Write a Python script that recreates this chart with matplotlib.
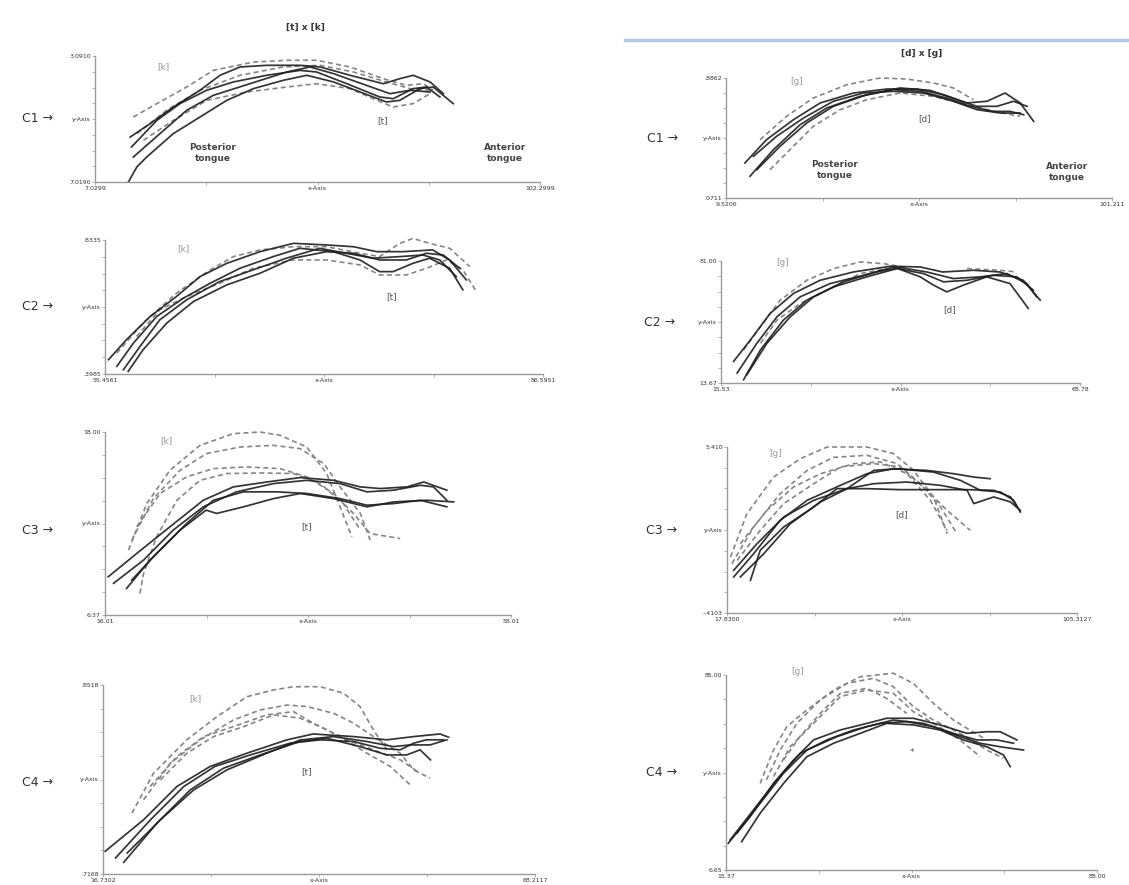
import matplotlib
matplotlib.use("Agg")
import matplotlib.pyplot as plt
from matplotlib.ticker import FixedLocator

W, H = 1129, 885
plt.rcParams["font.family"] = ["DejaVu Sans"]

# ---- curve data (x, y in % of each panel's axis range) ----
# left column: [t] (solid) vs [k] (dashed)
L1_SOLID_X = [[7.5, 9.4, 11.6, 17.6, 23.6, 29.6, 35.6, 42.3, 47.6, 53.6, 59.6, 65.5, 68.5, 73.0, 76.0, 80.5],
              [7.9, 12.4, 17.6, 23.6, 28.1, 32.6, 38.6, 46.1, 50.6, 57.3, 64.8, 68.5, 71.5, 75.3, 78.3],
              [8.2, 13.9, 19.1, 25.1, 31.1, 38.6, 46.1, 49.8, 56.6, 64.0, 67.0, 71.5, 74.5, 77.5],
              [8.6, 14.6, 20.6, 26.6, 34.8, 43.1, 48.3, 53.6, 61.0, 66.3, 70.8, 75.3]]
L1_SOLID_Y = [[0, 11.9, 19.8, 38.4, 51.6, 64.8, 74.1, 80.7, 84.7, 79.4, 71.4, 63.5, 64.8, 74.1, 75.4, 62.2],
              [35.7, 46.3, 59.5, 72.8, 84.7, 91.3, 92.6, 92.6, 91.3, 84.7, 78.0, 82.0, 84.7, 79.4, 70.1],
              [27.8, 48.9, 62.2, 72.8, 79.4, 84.7, 88.6, 87.3, 78.0, 67.5, 66.1, 74.1, 75.4, 67.5],
              [19.8, 38.4, 56.9, 68.8, 78.0, 87.3, 91.3, 86.0, 76.7, 70.1, 72.8, 71.4]]
L1_DASH_X = [[8.6, 13.9, 20.6, 26.6, 35.6, 43.1, 49.8, 57.3, 64.8, 70.0, 73.8, 76.0],
             [10.9, 17.6, 25.1, 34.1, 43.1, 49.8, 57.3, 62.5, 67.0, 71.5, 75.3],
             [9.4, 16.1, 23.6, 32.6, 42.3, 50.6, 58.1, 65.5, 70.8, 75.3]]
L1_DASH_Y = [[51.6, 62.2, 75.4, 88.6, 95.2, 96.6, 96.6, 91.3, 82.0, 76.7, 78.0, 72.8],
             [33.1, 48.9, 64.8, 71.4, 75.4, 78.0, 74.1, 66.1, 59.5, 62.2, 70.1],
             [38.4, 56.9, 72.8, 84.7, 91.3, 92.6, 87.3, 79.4, 74.1, 72.8]]

L2_SOLID_X = [[0.8, 4.9, 10.3, 16.3, 21.7, 27.8, 35.4, 43.0, 50.6, 56.7, 62.0, 68.1, 74.8, 78.7, 82.5],
              [2.7, 6.5, 11.8, 17.9, 24.0, 30.8, 38.4, 44.5, 52.1, 58.2, 62.7, 65.8, 70.3, 74.1, 78.7, 81.7],
              [4.2, 8.0, 12.5, 18.6, 26.2, 33.8, 41.4, 49.0, 55.1, 61.2, 67.3, 72.6, 76.4, 80.2],
              [5.3, 8.7, 14.1, 20.2, 27.8, 35.4, 43.0, 50.6, 56.7, 62.7, 68.8, 73.4, 77.2, 81.0]]
L2_SOLID_Y = [[10.7, 25.6, 42.9, 57.8, 72.7, 82.6, 91.3, 97.5, 96.3, 95.0, 91.3, 91.3, 92.6, 85.1, 70.2],
              [5.7, 23.1, 42.9, 56.6, 67.7, 78.9, 87.6, 93.8, 91.3, 85.1, 76.4, 76.4, 82.6, 86.4, 78.9, 62.8],
              [3.2, 20.6, 40.4, 55.3, 69.0, 77.7, 86.4, 93.8, 90.1, 86.4, 87.6, 88.8, 85.1, 72.7],
              [2.0, 18.1, 38.0, 54.1, 66.5, 75.2, 86.4, 91.3, 90.1, 85.1, 85.1, 90.1, 88.8, 78.9]]
L2_DASH_X = [[7.2, 12.5, 18.6, 26.2, 33.8, 43.0, 50.6, 58.2, 62.7, 68.8, 73.4, 78.0, 81.7, 84.8],
             [2.7, 8.7, 16.3, 24.0, 29.3, 35.4, 43.0, 50.6, 58.2, 62.7, 67.3, 70.3, 74.1, 78.7, 83.3]]
L2_DASH_Y = [[28.0, 47.9, 57.8, 67.7, 78.9, 85.1, 85.1, 81.4, 73.9, 73.9, 78.9, 85.1, 77.7, 61.5],
             [15.6, 38.0, 60.3, 77.7, 87.6, 92.6, 95.0, 95.0, 90.1, 87.6, 97.5, 101.2, 97.5, 93.8, 80.1]]

L3_SOLID_X = [[0.8, 7.8, 16.0, 24.2, 31.6, 39.9, 48.1, 56.3, 62.9, 67.8, 74.4, 78.5, 84.2],
              [2.1, 9.5, 16.8, 24.2, 32.4, 41.5, 49.7, 57.9, 64.5, 71.1, 77.7, 80.9, 84.2],
              [5.3, 11.1, 18.5, 24.9, 27.5, 34.1, 41.5, 48.1, 56.3, 64.5, 71.1, 79.3, 85.9],
              [6.6, 12.7, 20.1, 26.7, 34.1, 42.3, 49.7, 57.9, 64.5, 71.1, 77.7, 84.2]]
L3_SOLID_Y = [[20.9, 33.6, 48.2, 62.7, 70.0, 72.7, 75.1, 73.6, 70.0, 69.1, 70.0, 72.7, 68.2],
              [17.3, 30.0, 46.4, 59.1, 67.3, 71.8, 73.6, 71.8, 67.3, 68.2, 70.9, 70.0, 62.7],
              [14.5, 30.0, 46.4, 57.3, 55.5, 59.1, 63.6, 66.4, 63.6, 59.1, 61.8, 62.7, 61.8],
              [19.1, 33.6, 50.0, 62.7, 67.3, 67.3, 66.4, 63.6, 60.0, 60.9, 62.7, 59.1]]
L3_DASH_X = [[5.8, 10.3, 16.0, 23.4, 31.6, 38.2, 43.1, 49.7, 54.6, 57.9, 60.8],
             [6.6, 11.9, 18.5, 25.0, 33.3, 41.5, 48.1, 53.9, 57.9, 62.9, 65.3],
             [7.8, 13.6, 20.1, 26.7, 34.9, 43.1, 49.7, 56.3, 61.2, 65.3, 72.7],
             [8.6, 9.5, 12.7, 17.7, 23.4, 30.0, 38.2, 46.4, 53.0, 58.7, 62.9]]
L3_DASH_Y = [[35.5, 60.9, 79.1, 92.7, 99.1, 100, 98.2, 91.8, 77.3, 59.1, 42.7],
             [40.9, 63.6, 79.1, 88.2, 91.8, 92.7, 90.9, 82.7, 70.0, 55.5, 40.9],
             [48.2, 66.4, 75.5, 80.0, 80.9, 80.0, 75.5, 66.4, 55.5, 44.5, 41.8],
             [11.8, 22.7, 42.7, 62.7, 73.6, 77.3, 77.6, 77.3, 71.8, 60.9, 46.4]]

L4_SOLID_X = [[0.5, 9.4, 17.1, 24.8, 33.3, 42.6, 48.7, 58.0, 65.7, 71.9, 78.0, 80.0],
              [2.9, 11.0, 18.7, 25.9, 34.1, 43.3, 50.3, 58.0, 64.2, 68.8, 71.9, 74.9, 78.8],
              [4.8, 12.5, 20.2, 27.9, 36.4, 45.6, 51.8, 59.5, 65.7, 70.3, 73.4, 75.8],
              [5.6, 13.3, 21.0, 28.7, 37.9, 45.6, 53.3, 61.1, 67.2, 71.1, 75.7, 79.6]]
L4_SOLID_Y = [[12.0, 28.7, 46.3, 56.9, 63.9, 71.0, 74.1, 72.7, 71.0, 72.7, 74.1, 72.4],
              [8.5, 28.7, 46.3, 56.9, 63.0, 69.2, 71.0, 70.1, 66.5, 65.7, 69.2, 71.0, 71.0],
              [6.2, 26.9, 44.5, 56.0, 63.0, 70.1, 71.8, 67.4, 63.0, 63.0, 65.7, 60.4],
              [11.1, 28.7, 44.5, 55.1, 63.9, 70.9, 72.7, 70.1, 67.4, 68.3, 68.3, 71.0]]
L4_DASH_X = [[6.7, 11.7, 19.4, 26.4, 33.3, 39.5, 44.1, 50.3, 55.7, 59.5, 62.6, 65.7],
             [9.4, 15.6, 22.5, 30.2, 36.4, 42.6, 47.2, 53.4, 58.0, 62.6, 68.8, 71.9, 75.7],
             [10.9, 17.1, 23.3, 30.2, 37.9, 44.1, 48.7, 54.9, 61.1, 66.5, 71.1],
             [13.3, 19.4, 25.6, 32.6, 39.5, 45.7, 51.1, 56.4, 62.6, 68.8, 73.4]]
L4_DASH_Y = [[32.2, 53.3, 71.0, 83.3, 93.8, 97.4, 99.1, 99.1, 95.6, 88.6, 76.2, 65.7],
             [39.3, 58.6, 71.0, 81.5, 86.8, 89.4, 88.6, 85.0, 79.8, 72.7, 63.9, 55.1, 50.7],
             [46.3, 62.1, 72.7, 78.0, 84.2, 85.9, 79.8, 72.7, 63.9, 56.9, 47.2],
             [49.8, 63.9, 72.7, 78.0, 84.2, 82.4, 77.1, 71.0, 65.7, 60.4, 53.3]]

# right column: [d] (solid) vs [g] (dashed)
R1_SOLID_X = [[4.9, 10.5, 17.5, 24.4, 33.0, 41.7, 49.4, 56.4, 62.4, 67.6, 72.3, 76.2, 79.7],
              [6.2, 12.3, 19.2, 26.1, 34.7, 43.4, 50.3, 57.2, 63.3, 69.3, 73.6, 77.1],
              [8.0, 14.0, 20.9, 27.8, 36.5, 45.1, 52.9, 59.8, 65.0, 70.2, 74.5, 78.0],
              [7.1, 13.1, 20.1, 27.8, 35.6, 43.4, 51.2, 58.9, 65.0, 71.1, 76.2]]
R1_SOLID_Y = [[29.2, 48.6, 65.3, 79.2, 87.5, 90.8, 90.8, 86.1, 79.2, 80.6, 87.5, 79.2, 63.9],
              [18.1, 40.3, 61.1, 75.0, 84.7, 90.3, 88.9, 83.3, 76.4, 72.2, 72.2, 69.4],
              [23.6, 43.1, 62.5, 76.4, 86.1, 91.7, 89.7, 81.9, 76.4, 76.4, 80.6, 76.4],
              [34.7, 51.4, 66.7, 80.6, 87.5, 88.9, 87.5, 80.6, 73.6, 70.8, 70.8]]
R1_DASH_X = [[8.8, 15.7, 22.6, 31.3, 39.9, 46.8, 53.8, 58.9, 64.1],
             [11.4, 16.6, 22.6, 29.6, 36.5, 45.1, 53.8, 62.4, 69.3, 76.2]]
R1_DASH_Y = [[48.6, 68.1, 83.3, 94.4, 100, 99.2, 95.8, 91.7, 81.9],
             [23.6, 40.3, 59.7, 73.6, 81.9, 87.5, 84.7, 77.8, 72.2, 68.1]]

R2_SOLID_X = [[3.5, 8.2, 13.7, 20.2, 27.6, 36.9, 47.1, 55.5, 61.7, 70.3, 77.7, 84.2, 88.9],
              [4.5, 10.0, 15.6, 22.1, 30.4, 39.7, 48.1, 55.5, 59.2, 62.9, 67.5, 74.0, 80.5, 85.6],
              [6.3, 11.0, 17.4, 23.9, 31.4, 40.6, 49.0, 56.4, 62.0, 68.5, 75.9, 82.4, 87.0],
              [7.2, 12.8, 19.3, 25.8, 34.1, 43.4, 49.9, 57.3, 64.7, 72.2, 79.6, 85.2, 87.9]]
R2_SOLID_Y = [[17.7, 35.3, 57.1, 73.4, 84.2, 91.0, 95.7, 95.1, 91.0, 92.4, 91.0, 84.2, 67.9],
              [8.2, 32.6, 54.3, 70.7, 81.5, 88.3, 95.1, 87.0, 80.2, 74.7, 80.2, 87.0, 81.5, 61.1],
              [2.7, 27.2, 51.6, 67.9, 78.8, 87.0, 93.8, 89.7, 82.9, 84.2, 88.3, 87.0, 76.1],
              [6.8, 32.6, 54.3, 70.7, 82.9, 91.0, 94.6, 91.0, 85.6, 87.0, 89.7, 81.5, 70.7]]
R2_DASH_X = [[6.3, 11.0, 16.5, 23.9, 31.4, 38.8, 45.3, 51.8],
             [11.0, 15.6, 22.1, 27.6, 32.3, 38.8, 46.2],
             [68.5, 77.7, 82.4]]
R2_DASH_Y = [[27.2, 46.2, 67.9, 84.2, 93.8, 99.2, 97.8, 94.6],
             [32.6, 51.6, 65.2, 73.4, 80.2, 89.7, 93.8],
             [93.8, 92.4, 91.0]]

R3_SOLID_X = [[1.9, 7.6, 15.2, 22.9, 32.4, 40.0, 47.6, 57.1, 64.8, 70.5, 75.2],
              [1.9, 8.6, 16.2, 24.8, 34.3, 41.9, 48.6, 59.0, 66.7, 72.4, 78.1, 81.9, 83.8],
              [3.8, 10.5, 18.1, 26.7, 34.3, 41.9, 51.4, 61.0, 68.6, 70.5, 76.2, 81.0, 83.8],
              [6.7, 9.5, 16.2, 24.8, 31.4, 40.0, 49.5, 59.0, 68.6, 76.2, 81.0, 82.9]]
R3_SOLID_Y = [[21.7, 35.7, 55.8, 67.9, 76.9, 83.9, 86.9, 85.9, 83.9, 81.9, 80.9],
              [25.7, 41.8, 57.8, 67.9, 74.9, 85.9, 86.9, 84.9, 79.9, 73.9, 72.9, 67.9, 60.8],
              [21.7, 35.7, 53.8, 66.9, 74.9, 77.9, 78.9, 76.9, 73.9, 65.9, 69.9, 66.9, 61.8],
              [19.7, 37.8, 51.8, 63.9, 74.9, 74.9, 74.3, 74.3, 74.3, 73.9, 69.9, 63.9]]
R3_DASH_X = [[1.0, 5.7, 13.3, 21.0, 28.6, 40.0, 47.6, 53.3, 59.0, 62.9],
             [1.4, 7.6, 15.2, 22.9, 30.5, 40.0, 48.6, 55.2, 61.0, 65.7],
             [2.9, 9.5, 16.2, 24.8, 32.4, 41.9, 49.5, 57.1, 62.9, 69.5],
             [3.8, 11.4, 19.0, 26.7, 36.2, 43.8, 51.4, 58.1, 62.9]]
R3_DASH_Y = [[33.7, 59.8, 81.9, 93.0, 100, 100, 96.0, 85.9, 69.9, 47.8],
             [29.7, 51.8, 71.9, 85.9, 93.8, 95.0, 90.0, 77.9, 63.9, 47.8],
             [31.7, 49.8, 65.9, 77.9, 88.0, 90.0, 88.0, 73.9, 61.8, 49.8],
             [41.8, 61.8, 75.9, 83.9, 90.0, 91.0, 83.9, 67.9, 49.8]]

R4_SOLID_X = [[0.6, 6.5, 12.8, 18.2, 23.6, 30.8, 38.0, 43.3, 50.5, 57.7, 64.9, 70.3, 73.9, 78.4],
              [1.1, 7.4, 13.7, 20.0, 27.2, 34.4, 41.6, 48.7, 55.9, 63.1, 68.5, 73.9, 80.2],
              [4.2, 9.2, 15.5, 21.8, 29.0, 36.2, 43.3, 50.5, 57.7, 64.0, 70.3, 74.8, 76.6],
              [2.9, 9.2, 15.5, 21.8, 29.9, 37.9, 45.1, 53.2, 61.3, 67.6, 73.0, 77.5]]
R4_SOLID_Y = [[13.7, 27.4, 44.4, 56.4, 66.7, 71.8, 75.2, 77.8, 77.8, 74.4, 70.1, 70.9, 70.9, 66.7],
              [15.4, 30.8, 46.2, 59.8, 66.7, 71.8, 75.2, 76.1, 73.5, 68.4, 65.0, 63.2, 61.5],
              [14.5, 29.1, 44.4, 58.1, 65.0, 70.1, 75.2, 74.4, 71.8, 66.7, 63.2, 59.0, 53.0],
              [18.8, 34.2, 49.6, 61.5, 68.4, 73.5, 76.9, 75.2, 70.1, 66.7, 66.7, 65.0]]
R4_DASH_X = [[9.2, 12.8, 16.4, 21.8, 29.0, 36.2, 45.1, 50.5, 55.9, 61.3, 65.7, 70.3],
             [10.9, 14.6, 19.1, 25.4, 32.6, 39.7, 45.1, 50.5, 55.9, 63.1, 70.3, 74.8],
             [12.8, 17.3, 23.6, 30.8, 37.9, 45.1, 50.5, 55.9, 63.1, 68.5],
             [15.5, 19.9, 25.4, 30.8, 37.9, 43.3, 48.7]]
R4_DASH_Y = [[44.4, 61.5, 73.5, 82.1, 92.3, 99.1, 100.9, 95.7, 85.5, 76.9, 71.8, 66.7],
             [46.2, 61.5, 75.2, 87.2, 95.7, 98.3, 94.0, 83.8, 76.9, 70.1, 61.5, 57.3],
             [47.9, 63.2, 75.2, 88.9, 92.3, 90.6, 81.2, 75.2, 66.7, 58.1],
             [56.4, 68.4, 80.3, 90.6, 93.2, 88.0, 80.3]]

# axis end labels: (y top, y bottom, x left, x right)
AXIS_LABELS = {
    "L1": ("3.0910", "7.0190", "7.0299", "102.2999"),
    "L2": (".8335", ".3985", "55.4561", "86.5951"),
    "L3": ("18.00", "6.37", "16.01", "58.01"),
    "L4": (".8518", ".7168", "16.7302", "68.2117"),
    "R1": (".8862", ".0711", "9.5206", "101.211"),
    "R2": ("81.00", "13.67", "15.53", "68.78"),
    "R3": ("5.410", "-.4103", "17.8300", "105.3127"),
    "R4": ("85.00", "6.65", "15.37", "88.00"),
}

# panel boxes in pixels: left, right, top, bottom
BOXES = {
    "L1": (95, 540, 56, 182), "L2": (105, 543, 240, 374),
    "L3": (105, 511, 432, 615), "L4": (103, 535, 685, 874),
    "R1": (726, 1112, 78, 198), "R2": (721, 1080, 261, 383),
    "R3": (727, 1077, 447, 613), "R4": (726, 1097, 675, 870),
}

PANELS = {
    "L1": (L1_SOLID_X, L1_SOLID_Y, L1_DASH_X, L1_DASH_Y),
    "L2": (L2_SOLID_X, L2_SOLID_Y, L2_DASH_X, L2_DASH_Y),
    "L3": (L3_SOLID_X, L3_SOLID_Y, L3_DASH_X, L3_DASH_Y),
    "L4": (L4_SOLID_X, L4_SOLID_Y, L4_DASH_X, L4_DASH_Y),
    "R1": (R1_SOLID_X, R1_SOLID_Y, R1_DASH_X, R1_DASH_Y),
    "R2": (R2_SOLID_X, R2_SOLID_Y, R2_DASH_X, R2_DASH_Y),
    "R3": (R3_SOLID_X, R3_SOLID_Y, R3_DASH_X, R3_DASH_Y),
    "R4": (R4_SOLID_X, R4_SOLID_Y, R4_DASH_X, R4_DASH_Y),
}

fig = plt.figure(figsize=(W / 100, H / 100), dpi=100)

def px(x, y):
    return x / W, 1 - y / H

for key, (sx, sy, dx, dy) in PANELS.items():
    l, r, t, b = BOXES[key]
    ax = fig.add_axes([l / W, 1 - b / H, (r - l) / W, (b - t) / H])
    for xs, ys in zip(dx, dy):
        ax.plot(xs, ys, color="#858585", lw=1.2, ls=(0, (3, 2)), clip_on=False)
    for xs, ys in zip(sx, sy):
        ax.plot(xs, ys, color="#1e1e1e", lw=1.25, alpha=0.9, clip_on=False)
    ax.set_xlim(0, 100); ax.set_ylim(0, 100)
    for s in ("top", "right"):
        ax.spines[s].set_visible(False)
    for s in ("left", "bottom"):
        ax.spines[s].set_color("#9a9a9a"); ax.spines[s].set_linewidth(1.0)
    yt, yb, xl, xr = AXIS_LABELS[key]
    ax.set_xticks([0, 50, 100]); ax.set_xticklabels([xl, "x-Axis", xr])
    ax.set_yticks([0, 50, 100]); ax.set_yticklabels([yb, "y-Axis", yt])
    ax.xaxis.set_minor_locator(FixedLocator([25, 75]))
    ax.yaxis.set_minor_locator(FixedLocator([12.5, 25, 37.5, 62.5, 75, 87.5]))
    ax.tick_params(which="both", length=2, width=0.6, color="#aaaaaa", labelsize=4.5,
                   labelcolor="#333333", pad=1)

# titles and annotations
fig.text(*px(305, 27), "[t] x [k]", ha="center", va="center", fontsize=6.5, fontweight="bold", color="#333333")
fig.text(*px(922, 53), "[d] x [g]", ha="center", va="center", fontsize=6.5, fontweight="bold", color="#333333")
fig.add_artist(plt.Line2D([625 / W, 1.0], [1 - 40 / H, 1 - 40 / H], color="#b4c8e2", lw=2.5))

for lab, x, y in [("C1", 38, 118), ("C2", 38, 307), ("C3", 38, 530), ("C4", 38, 782),
                  ("C1", 663, 138), ("C2", 660, 322), ("C3", 662, 530), ("C4", 662, 772)]:
    fig.text(*px(x, y), lab + " \u2192", ha="center", va="center", fontsize=9, color="#333333")

for lab, x, y, c in [("[k]", 163, 67, "#999999"), ("[t]", 383, 121, "#555555"),
                     ("[k]", 183, 249, "#999999"), ("[t]", 392, 297, "#555555"),
                     ("[k]", 166, 441, "#999999"), ("[t]", 307, 527, "#555555"),
                     ("[k]", 195, 699, "#999999"), ("[t]", 307, 772, "#555555"),
                     ("[g]", 797, 82, "#999999"), ("[d]", 925, 119, "#555555"),
                     ("[g]", 783, 262, "#999999"), ("[d]", 950, 310, "#555555"),
                     ("[g]", 776, 453, "#999999"), ("[d]", 902, 515, "#555555"),
                     ("[g]", 798, 671, "#999999"), ("*", 912, 753, "#555555")]:
    fig.text(*px(x, y), lab, ha="center", va="center", fontsize=6.5, color=c)

for lab, x, y in [("Posterior\ntongue", 213, 153), ("Anterior\ntongue", 505, 153),
                  ("Posterior\ntongue", 835, 170), ("Anterior\ntongue", 1067, 172)]:
    fig.text(*px(x, y), lab, ha="center", va="center", fontsize=6.5, fontweight="bold",
             color="#444444", linespacing=1.3)

fig.savefig("out.png", dpi=100, facecolor="white")
